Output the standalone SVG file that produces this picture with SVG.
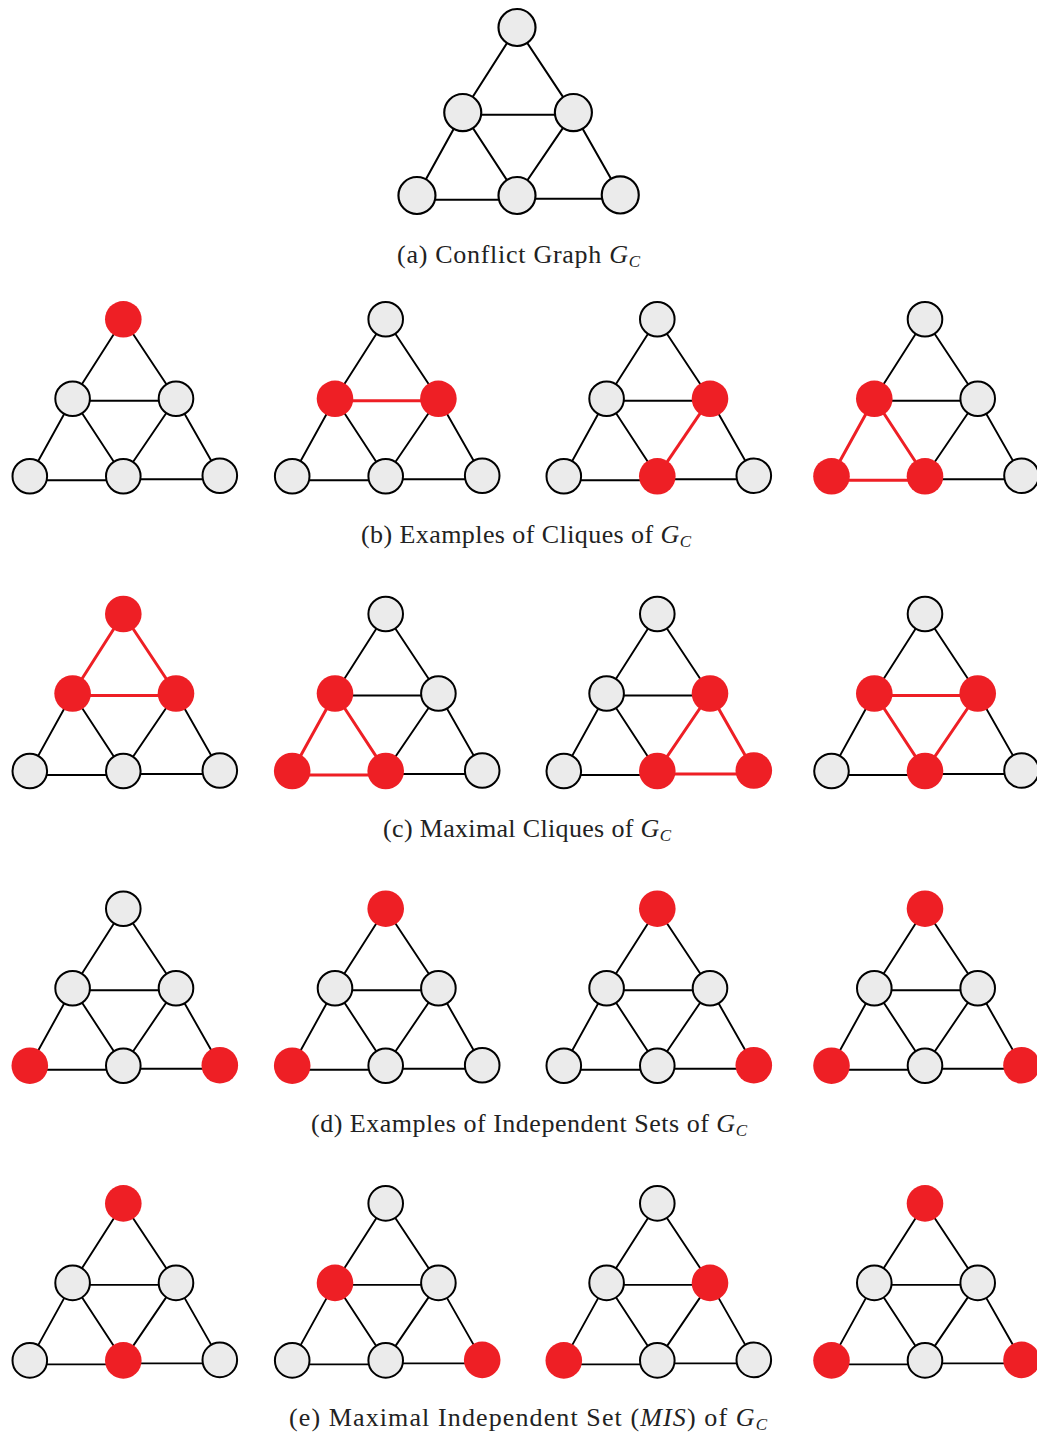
<svg xmlns="http://www.w3.org/2000/svg" width="1037" height="1434" viewBox="0 0 1037 1434">
<style>
.e{stroke:#000;stroke-width:1.9;fill:none}
.re{stroke:#ee1f25;stroke-width:3;fill:none}
.n{fill:#ebebeb;stroke:#000;stroke-width:2}
.r{fill:#ee1f25;stroke:none}
.cap{font-family:"Liberation Serif","Times New Roman",serif;font-size:26px;fill:#222;text-anchor:middle}
.it{font-style:italic}
.sub{font-style:italic;font-size:17px}
</style>
<rect width="1037" height="1434" fill="#fff"/>

<!-- (a) -->
<g id="a" transform="translate(517 27.5) scale(1.07)">
<g id="a-edges"><path class="e" d="M0 0L-50.7 79.5M0 0L52.7 79.5M-50.7 81.5H52.7M-50.7 79.5L-93.5 157M-50.7 79.5L0 157M52.7 79.5L0 157M52.7 79.5L96.5 156.5M-93.5 161H0M0 160H96.5"/></g>
<g id="a-T"><circle class="n" cx="0" cy="0" r="17.3"/></g>
<g id="a-L"><circle class="n" cx="-50.7" cy="79.5" r="17.3"/></g>
<g id="a-R"><circle class="n" cx="52.7" cy="79.5" r="17.3"/></g>
<g id="a-A"><circle class="n" cx="-93.5" cy="157" r="17.3"/></g>
<g id="a-M"><circle class="n" cx="0" cy="157" r="17.3"/></g>
<g id="a-B"><circle class="n" cx="96.5" cy="156.5" r="17.3"/></g>
</g>
<text class="cap" x="518.5" y="263" textLength="243" lengthAdjust="spacing">(a) Conflict Graph <tspan class="it">G</tspan><tspan class="sub" dy="4">C</tspan></text>

<!-- (b) row -->
<g id="b1" transform="translate(123.3 319.3)">
<g id="b1-edges"><path class="e" d="M0 0L-50.7 79.5M0 0L52.7 79.5M-50.7 81.5H52.7M-50.7 79.5L-93.5 157M-50.7 79.5L0 157M52.7 79.5L0 157M52.7 79.5L96.5 156.5M-93.5 161H0M0 160H96.5"/></g>
<g id="b1-T"><circle class="r" cx="0" cy="0" r="18.3"/></g>
<g id="b1-L"><circle class="n" cx="-50.7" cy="79.5" r="17.3"/></g>
<g id="b1-R"><circle class="n" cx="52.7" cy="79.5" r="17.3"/></g>
<g id="b1-A"><circle class="n" cx="-93.5" cy="157" r="17.3"/></g>
<g id="b1-M"><circle class="n" cx="0" cy="157" r="17.3"/></g>
<g id="b1-B"><circle class="n" cx="96.5" cy="156.5" r="17.3"/></g>
</g>
<g id="b2" transform="translate(385.7 319.3)">
<g id="b2-edges"><path class="e" d="M0 0L-50.7 79.5M0 0L52.7 79.5M-50.7 79.5L-93.5 157M-50.7 79.5L0 157M52.7 79.5L0 157M52.7 79.5L96.5 156.5M-93.5 161H0M0 160H96.5"/><path class="re" d="M-50.7 81.5H52.7"/></g>
<g id="b2-T"><circle class="n" cx="0" cy="0" r="17.3"/></g>
<g id="b2-L"><circle class="r" cx="-50.7" cy="79.5" r="18.3"/></g>
<g id="b2-R"><circle class="r" cx="52.7" cy="79.5" r="18.3"/></g>
<g id="b2-A"><circle class="n" cx="-93.5" cy="157" r="17.3"/></g>
<g id="b2-M"><circle class="n" cx="0" cy="157" r="17.3"/></g>
<g id="b2-B"><circle class="n" cx="96.5" cy="156.5" r="17.3"/></g>
</g>
<g id="b3" transform="translate(657.3 319.3)">
<g id="b3-edges"><path class="e" d="M0 0L-50.7 79.5M0 0L52.7 79.5M-50.7 81.5H52.7M-50.7 79.5L-93.5 157M-50.7 79.5L0 157M52.7 79.5L96.5 156.5M-93.5 161H0M0 160H96.5"/><path class="re" d="M52.7 79.5L0 157"/></g>
<g id="b3-T"><circle class="n" cx="0" cy="0" r="17.3"/></g>
<g id="b3-L"><circle class="n" cx="-50.7" cy="79.5" r="17.3"/></g>
<g id="b3-R"><circle class="r" cx="52.7" cy="79.5" r="18.3"/></g>
<g id="b3-A"><circle class="n" cx="-93.5" cy="157" r="17.3"/></g>
<g id="b3-M"><circle class="r" cx="0" cy="157" r="18.3"/></g>
<g id="b3-B"><circle class="n" cx="96.5" cy="156.5" r="17.3"/></g>
</g>
<g id="b4" transform="translate(925 319.3)">
<g id="b4-edges"><path class="e" d="M0 0L-50.7 79.5M0 0L52.7 79.5M-50.7 81.5H52.7M52.7 79.5L0 157M52.7 79.5L96.5 156.5M0 160H96.5"/><path class="re" d="M-50.7 79.5L-93.5 157M-50.7 79.5L0 157M-93.5 161H0"/></g>
<g id="b4-T"><circle class="n" cx="0" cy="0" r="17.3"/></g>
<g id="b4-L"><circle class="r" cx="-50.7" cy="79.5" r="18.3"/></g>
<g id="b4-R"><circle class="n" cx="52.7" cy="79.5" r="17.3"/></g>
<g id="b4-A"><circle class="r" cx="-93.5" cy="157" r="18.3"/></g>
<g id="b4-M"><circle class="r" cx="0" cy="157" r="18.3"/></g>
<g id="b4-B"><circle class="n" cx="96.5" cy="156.5" r="17.3"/></g>
</g>
<text class="cap" x="526" y="543" textLength="330" lengthAdjust="spacing">(b) Examples of Cliques of <tspan class="it">G</tspan><tspan class="sub" dy="4">C</tspan></text>

<!-- (c) row -->
<g id="c1" transform="translate(123.3 614)">
<g id="c1-edges"><path class="e" d="M-50.7 79.5L-93.5 157M-50.7 79.5L0 157M52.7 79.5L0 157M52.7 79.5L96.5 156.5M-93.5 161H0M0 160H96.5"/><path class="re" d="M0 0L-50.7 79.5M0 0L52.7 79.5M-50.7 81.5H52.7"/></g>
<g id="c1-T"><circle class="r" cx="0" cy="0" r="18.3"/></g>
<g id="c1-L"><circle class="r" cx="-50.7" cy="79.5" r="18.3"/></g>
<g id="c1-R"><circle class="r" cx="52.7" cy="79.5" r="18.3"/></g>
<g id="c1-A"><circle class="n" cx="-93.5" cy="157" r="17.3"/></g>
<g id="c1-M"><circle class="n" cx="0" cy="157" r="17.3"/></g>
<g id="c1-B"><circle class="n" cx="96.5" cy="156.5" r="17.3"/></g>
</g>
<g id="c2" transform="translate(385.7 614)">
<g id="c2-edges"><path class="e" d="M0 0L-50.7 79.5M0 0L52.7 79.5M-50.7 81.5H52.7M52.7 79.5L0 157M52.7 79.5L96.5 156.5M0 160H96.5"/><path class="re" d="M-50.7 79.5L-93.5 157M-50.7 79.5L0 157M-93.5 161H0"/></g>
<g id="c2-T"><circle class="n" cx="0" cy="0" r="17.3"/></g>
<g id="c2-L"><circle class="r" cx="-50.7" cy="79.5" r="18.3"/></g>
<g id="c2-R"><circle class="n" cx="52.7" cy="79.5" r="17.3"/></g>
<g id="c2-A"><circle class="r" cx="-93.5" cy="157" r="18.3"/></g>
<g id="c2-M"><circle class="r" cx="0" cy="157" r="18.3"/></g>
<g id="c2-B"><circle class="n" cx="96.5" cy="156.5" r="17.3"/></g>
</g>
<g id="c3" transform="translate(657.3 614)">
<g id="c3-edges"><path class="e" d="M0 0L-50.7 79.5M0 0L52.7 79.5M-50.7 81.5H52.7M-50.7 79.5L-93.5 157M-50.7 79.5L0 157M-93.5 161H0"/><path class="re" d="M52.7 79.5L0 157M52.7 79.5L96.5 156.5M0 160H96.5"/></g>
<g id="c3-T"><circle class="n" cx="0" cy="0" r="17.3"/></g>
<g id="c3-L"><circle class="n" cx="-50.7" cy="79.5" r="17.3"/></g>
<g id="c3-R"><circle class="r" cx="52.7" cy="79.5" r="18.3"/></g>
<g id="c3-A"><circle class="n" cx="-93.5" cy="157" r="17.3"/></g>
<g id="c3-M"><circle class="r" cx="0" cy="157" r="18.3"/></g>
<g id="c3-B"><circle class="r" cx="96.5" cy="156.5" r="18.3"/></g>
</g>
<g id="c4" transform="translate(925 614)">
<g id="c4-edges"><path class="e" d="M0 0L-50.7 79.5M0 0L52.7 79.5M-50.7 79.5L-93.5 157M52.7 79.5L96.5 156.5M-93.5 161H0M0 160H96.5"/><path class="re" d="M-50.7 81.5H52.7M-50.7 79.5L0 157M52.7 79.5L0 157"/></g>
<g id="c4-T"><circle class="n" cx="0" cy="0" r="17.3"/></g>
<g id="c4-L"><circle class="r" cx="-50.7" cy="79.5" r="18.3"/></g>
<g id="c4-R"><circle class="r" cx="52.7" cy="79.5" r="18.3"/></g>
<g id="c4-A"><circle class="n" cx="-93.5" cy="157" r="17.3"/></g>
<g id="c4-M"><circle class="r" cx="0" cy="157" r="18.3"/></g>
<g id="c4-B"><circle class="n" cx="96.5" cy="156.5" r="17.3"/></g>
</g>
<text class="cap" x="527" y="837" textLength="288" lengthAdjust="spacing">(c) Maximal Cliques of <tspan class="it">G</tspan><tspan class="sub" dy="4">C</tspan></text>

<!-- (d) row -->
<g id="d1" transform="translate(123.3 908.7)">
<g id="d1-edges"><path class="e" d="M0 0L-50.7 79.5M0 0L52.7 79.5M-50.7 81.5H52.7M-50.7 79.5L-93.5 157M-50.7 79.5L0 157M52.7 79.5L0 157M52.7 79.5L96.5 156.5M-93.5 161H0M0 160H96.5"/></g>
<g id="d1-T"><circle class="n" cx="0" cy="0" r="17.3"/></g>
<g id="d1-L"><circle class="n" cx="-50.7" cy="79.5" r="17.3"/></g>
<g id="d1-R"><circle class="n" cx="52.7" cy="79.5" r="17.3"/></g>
<g id="d1-A"><circle class="r" cx="-93.5" cy="157" r="18.3"/></g>
<g id="d1-M"><circle class="n" cx="0" cy="157" r="17.3"/></g>
<g id="d1-B"><circle class="r" cx="96.5" cy="156.5" r="18.3"/></g>
</g>
<g id="d2" transform="translate(385.7 908.7)">
<g id="d2-edges"><path class="e" d="M0 0L-50.7 79.5M0 0L52.7 79.5M-50.7 81.5H52.7M-50.7 79.5L-93.5 157M-50.7 79.5L0 157M52.7 79.5L0 157M52.7 79.5L96.5 156.5M-93.5 161H0M0 160H96.5"/></g>
<g id="d2-T"><circle class="r" cx="0" cy="0" r="18.3"/></g>
<g id="d2-L"><circle class="n" cx="-50.7" cy="79.5" r="17.3"/></g>
<g id="d2-R"><circle class="n" cx="52.7" cy="79.5" r="17.3"/></g>
<g id="d2-A"><circle class="r" cx="-93.5" cy="157" r="18.3"/></g>
<g id="d2-M"><circle class="n" cx="0" cy="157" r="17.3"/></g>
<g id="d2-B"><circle class="n" cx="96.5" cy="156.5" r="17.3"/></g>
</g>
<g id="d3" transform="translate(657.3 908.7)">
<g id="d3-edges"><path class="e" d="M0 0L-50.7 79.5M0 0L52.7 79.5M-50.7 81.5H52.7M-50.7 79.5L-93.5 157M-50.7 79.5L0 157M52.7 79.5L0 157M52.7 79.5L96.5 156.5M-93.5 161H0M0 160H96.5"/></g>
<g id="d3-T"><circle class="r" cx="0" cy="0" r="18.3"/></g>
<g id="d3-L"><circle class="n" cx="-50.7" cy="79.5" r="17.3"/></g>
<g id="d3-R"><circle class="n" cx="52.7" cy="79.5" r="17.3"/></g>
<g id="d3-A"><circle class="n" cx="-93.5" cy="157" r="17.3"/></g>
<g id="d3-M"><circle class="n" cx="0" cy="157" r="17.3"/></g>
<g id="d3-B"><circle class="r" cx="96.5" cy="156.5" r="18.3"/></g>
</g>
<g id="d4" transform="translate(925 908.7)">
<g id="d4-edges"><path class="e" d="M0 0L-50.7 79.5M0 0L52.7 79.5M-50.7 81.5H52.7M-50.7 79.5L-93.5 157M-50.7 79.5L0 157M52.7 79.5L0 157M52.7 79.5L96.5 156.5M-93.5 161H0M0 160H96.5"/></g>
<g id="d4-T"><circle class="r" cx="0" cy="0" r="18.3"/></g>
<g id="d4-L"><circle class="n" cx="-50.7" cy="79.5" r="17.3"/></g>
<g id="d4-R"><circle class="n" cx="52.7" cy="79.5" r="17.3"/></g>
<g id="d4-A"><circle class="r" cx="-93.5" cy="157" r="18.3"/></g>
<g id="d4-M"><circle class="n" cx="0" cy="157" r="17.3"/></g>
<g id="d4-B"><circle class="r" cx="96.5" cy="156.5" r="18.3"/></g>
</g>
<text class="cap" x="529" y="1132" textLength="436" lengthAdjust="spacing">(d) Examples of Independent Sets of <tspan class="it">G</tspan><tspan class="sub" dy="4">C</tspan></text>

<!-- (e) row -->
<g id="e1" transform="translate(123.3 1203.4)">
<g id="e1-edges"><path class="e" d="M0 0L-50.7 79.5M0 0L52.7 79.5M-50.7 81.5H52.7M-50.7 79.5L-93.5 157M-50.7 79.5L0 157M52.7 79.5L0 157M52.7 79.5L96.5 156.5M-93.5 161H0M0 160H96.5"/></g>
<g id="e1-T"><circle class="r" cx="0" cy="0" r="18.3"/></g>
<g id="e1-L"><circle class="n" cx="-50.7" cy="79.5" r="17.3"/></g>
<g id="e1-R"><circle class="n" cx="52.7" cy="79.5" r="17.3"/></g>
<g id="e1-A"><circle class="n" cx="-93.5" cy="157" r="17.3"/></g>
<g id="e1-M"><circle class="r" cx="0" cy="157" r="18.3"/></g>
<g id="e1-B"><circle class="n" cx="96.5" cy="156.5" r="17.3"/></g>
</g>
<g id="e2" transform="translate(385.7 1203.4)">
<g id="e2-edges"><path class="e" d="M0 0L-50.7 79.5M0 0L52.7 79.5M-50.7 81.5H52.7M-50.7 79.5L-93.5 157M-50.7 79.5L0 157M52.7 79.5L0 157M52.7 79.5L96.5 156.5M-93.5 161H0M0 160H96.5"/></g>
<g id="e2-T"><circle class="n" cx="0" cy="0" r="17.3"/></g>
<g id="e2-L"><circle class="r" cx="-50.7" cy="79.5" r="18.3"/></g>
<g id="e2-R"><circle class="n" cx="52.7" cy="79.5" r="17.3"/></g>
<g id="e2-A"><circle class="n" cx="-93.5" cy="157" r="17.3"/></g>
<g id="e2-M"><circle class="n" cx="0" cy="157" r="17.3"/></g>
<g id="e2-B"><circle class="r" cx="96.5" cy="156.5" r="18.3"/></g>
</g>
<g id="e3" transform="translate(657.3 1203.4)">
<g id="e3-edges"><path class="e" d="M0 0L-50.7 79.5M0 0L52.7 79.5M-50.7 81.5H52.7M-50.7 79.5L-93.5 157M-50.7 79.5L0 157M52.7 79.5L0 157M52.7 79.5L96.5 156.5M-93.5 161H0M0 160H96.5"/></g>
<g id="e3-T"><circle class="n" cx="0" cy="0" r="17.3"/></g>
<g id="e3-L"><circle class="n" cx="-50.7" cy="79.5" r="17.3"/></g>
<g id="e3-R"><circle class="r" cx="52.7" cy="79.5" r="18.3"/></g>
<g id="e3-A"><circle class="r" cx="-93.5" cy="157" r="18.3"/></g>
<g id="e3-M"><circle class="n" cx="0" cy="157" r="17.3"/></g>
<g id="e3-B"><circle class="n" cx="96.5" cy="156.5" r="17.3"/></g>
</g>
<g id="e4" transform="translate(925 1203.4)">
<g id="e4-edges"><path class="e" d="M0 0L-50.7 79.5M0 0L52.7 79.5M-50.7 81.5H52.7M-50.7 79.5L-93.5 157M-50.7 79.5L0 157M52.7 79.5L0 157M52.7 79.5L96.5 156.5M-93.5 161H0M0 160H96.5"/></g>
<g id="e4-T"><circle class="r" cx="0" cy="0" r="18.3"/></g>
<g id="e4-L"><circle class="n" cx="-50.7" cy="79.5" r="17.3"/></g>
<g id="e4-R"><circle class="n" cx="52.7" cy="79.5" r="17.3"/></g>
<g id="e4-A"><circle class="r" cx="-93.5" cy="157" r="18.3"/></g>
<g id="e4-M"><circle class="n" cx="0" cy="157" r="17.3"/></g>
<g id="e4-B"><circle class="r" cx="96.5" cy="156.5" r="18.3"/></g>
</g>
<text class="cap" x="528" y="1426" textLength="478" lengthAdjust="spacing">(e) Maximal Independent Set (<tspan class="it">MIS</tspan>) of <tspan class="it">G</tspan><tspan class="sub" dy="4">C</tspan></text>
</svg>
